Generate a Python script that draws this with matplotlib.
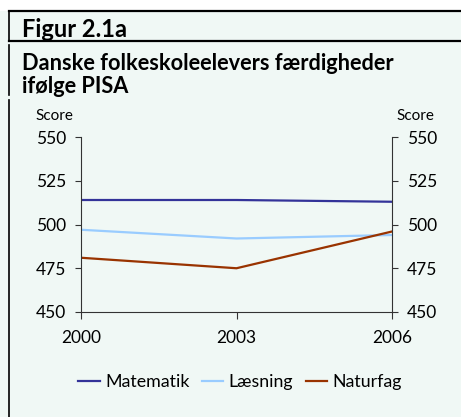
import matplotlib
matplotlib.use('Agg')
import matplotlib.pyplot as plt
from matplotlib.lines import Line2D
from matplotlib.patches import Rectangle

years = [2000, 2003, 2006]
matematik = [514, 514, 513]
laesning = [497, 492, 494]
naturfag = [481, 475, 496]
yticks = [450, 475, 500, 525, 550]

plt.rcParams['font.family'] = ['Lato', 'DejaVu Sans']

W, H = 461, 417
bg = '#f0f8f5'
fig = plt.figure(figsize=(W / 100, H / 100), dpi=100)
fig.patch.set_facecolor('white')

def fx(px):
    return px / W

def fy(py):
    return 1 - py / H

# panel background and frame lines
fig.add_artist(Rectangle((0, 0), 1, fy(11), transform=fig.transFigure, color=bg, zorder=0))
fig.add_artist(Line2D([fx(9), 1], [fy(11), fy(11)], color='black', lw=1.6))
fig.add_artist(Line2D([fx(9), 1], [fy(41), fy(41)], color='black', lw=1.6))
for y0, y1 in [(11, 41), (45, 95), (100, 417)]:
    fig.add_artist(Line2D([fx(9), fx(9)], [fy(y0), fy(y1)], color='black', lw=1.2))

fig.text(fx(22), fy(37), 'Figur 2.1a', fontsize=17, fontweight='bold', va='baseline')
fig.text(fx(22), fy(70), 'Danske folkeskoleelevers færdigheder', fontsize=15.7,
         fontweight='bold', va='baseline')
fig.text(fx(22), fy(93), 'ifølge PISA', fontsize=15.7, fontweight='bold', va='baseline')

ax = fig.add_axes([fx(81), fy(312), fx(392) - fx(81), fy(137) - fy(312)])
ax.set_facecolor(bg)
ax.plot(years, matematik, color='#333399', lw=1.6, label='Matematik')
ax.plot(years, laesning, color='#99ccff', lw=1.6, label='Læsning')
ax.plot(years, naturfag, color='#993300', lw=1.6, label='Naturfag')
ax.set_xlim(2000, 2006)
ax.set_ylim(450, 550)
ax.set_xticks(years)
ax.set_yticks(yticks)
ax.spines['top'].set_visible(False)
for s in ['left', 'right', 'bottom']:
    ax.spines[s].set_color('#333333')
    ax.spines[s].set_linewidth(0.8)
ax.tick_params(axis='y', which='both', left=True, right=True, labelleft=True,
               labelright=True, labelsize=12.5, length=4, color='#333333', pad=6.5)
ax.tick_params(axis='x', labelsize=12.5, length=5, color='#333333', pad=8)

fig.text(fx(54), fy(116), 'Score', fontsize=11, ha='center', va='center')
fig.text(fx(415), fy(116), 'Score', fontsize=11, ha='center', va='center')

fig.legend(loc='center', bbox_to_anchor=(fx(240), fy(382)), ncol=3, frameon=False,
           fontsize=12.8, handlelength=1.2, handletextpad=0.3, columnspacing=0.7)

fig.savefig('out.png', dpi=100, facecolor=fig.get_facecolor())
